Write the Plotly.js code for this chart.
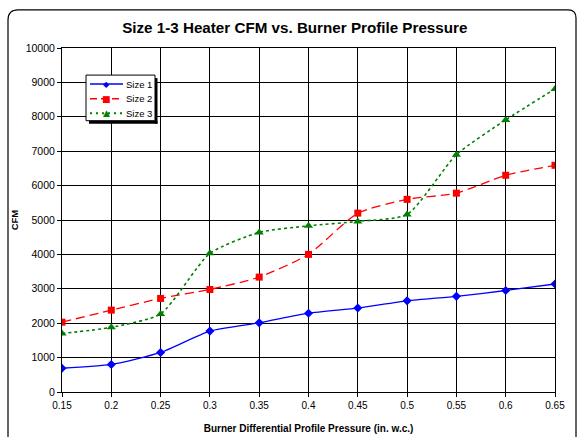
<!DOCTYPE html>
<html>
<head>
<meta charset="utf-8">
<script src="https://cdn.plot.ly/plotly-3.0.1.min.js"></script>
<style>html,body{margin:0;padding:0;background:#fff;}#chart{width:578px;height:437px;}</style>
</head>
<body>
<div id="chart"></div>
<script>
const pressure = [0.15, 0.2, 0.25, 0.3, 0.35, 0.4, 0.45, 0.5, 0.55, 0.6, 0.65];
const size1 = [690, 800, 1150, 1770, 2010, 2290, 2440, 2650, 2780, 2950, 3140];
const size2 = [2030, 2380, 2720, 2980, 3340, 4000, 5200, 5600, 5780, 6300, 6590];
const size3 = [1700, 1880, 2270, 4030, 4640, 4830, 4960, 5160, 6900, 7910, 8810];
const seriesNames = ['Size 1', 'Size 2', 'Size 3'];
const yTicks = [0,1000,2000,3000,4000,5000,6000,7000,8000,9000,10000];
const xTicks = [0.15,0.2,0.25,0.3,0.35,0.4,0.45,0.5,0.55,0.6,0.65];

const font = 'Arial, "Liberation Sans", sans-serif';
const colors = ['#0000FF', '#FF0000', '#008000'];
const dashes = ['solid', '9px,5px', 'dot'];
const widths = [1.3, 1.3, 1.6];
const symbols = ['diamond', 'square', 'triangle-up'];
const glyphs = ['\u25C6', '\u25A0', '\u25B2'];
const sizes = [7, 7, 8];
const data = [size1, size2, size3];

const traces = data.map((ys, i) => ({
  x: pressure, y: ys, name: seriesNames[i], mode: 'lines+markers', showlegend: false,
  line: {color: colors[i], width: widths[i], dash: dashes[i], shape: 'spline', smoothing: 0.6},
  marker: {symbol: symbols[i], size: sizes[i], color: colors[i]}
}));

// pixel -> paper helpers (plot area 62..555 x 48..391)
const PX = x => (x - 62) / 493;
const PY = y => (391 - y) / 343;

const shapes = [
  {type: 'path', xref: 'paper', yref: 'paper',
   path: 'M ' + PX(8) + ' ' + PY(460) +
         ' L ' + PX(8) + ' ' + PY(20) +
         ' Q ' + PX(8) + ' ' + PY(10) + ' ' + PX(18) + ' ' + PY(10) +
         ' L ' + PX(568) + ' ' + PY(10) +
         ' Q ' + PX(576) + ' ' + PY(10) + ' ' + PX(576) + ' ' + PY(18) +
         ' L ' + PX(576) + ' ' + PY(460),
   line: {color: '#000', width: 1.2}},
  // legend box
  {type: 'rect', xref: 'paper', yref: 'paper', x0: PX(86), x1: PX(155), y0: PY(120.5), y1: PY(75),
   fillcolor: '#fff', line: {color: '#000', width: 1}, layer: 'above'},
  // legend shadow (right and bottom strips)
  {type: 'rect', xref: 'paper', yref: 'paper', x0: PX(155), x1: PX(157.5), y0: PY(123.5), y1: PY(78),
   fillcolor: '#000', line: {width: 0}, layer: 'above'},
  {type: 'rect', xref: 'paper', yref: 'paper', x0: PX(89), x1: PX(157.5), y0: PY(123.5), y1: PY(120.5),
   fillcolor: '#000', line: {width: 0}, layer: 'above'}
];
const annotations = [];
const rowY = [84, 98.5, 113];
seriesNames.forEach((nm, i) => {
  shapes.push({type: 'line', xref: 'paper', yref: 'paper', x0: PX(90), x1: PX(123), y0: PY(rowY[i]), y1: PY(rowY[i]),
    line: {color: colors[i], width: i === 2 ? 2 : 1.5, dash: i === 1 ? '7px,4px' : (i === 2 ? '2px,4px' : 'solid')}, layer: 'above'});
  annotations.push({xref: 'paper', yref: 'paper', x: PX(106.5), y: PY(rowY[i]), text: glyphs[i], showarrow: false,
    xanchor: 'center', yanchor: 'middle', font: {family: 'DejaVu Sans', size: i === 0 ? 8 : 9, color: colors[i]}});
  annotations.push({xref: 'paper', yref: 'paper', x: PX(123.5), y: PY(rowY[i]), text: nm, showarrow: false,
    xanchor: 'left', yanchor: 'middle', font: {family: font, size: 9.5, color: '#000'}});
});

const layout = {
  width: 578, height: 437,
  margin: {l: 62, r: 23, t: 48, b: 45},
  paper_bgcolor: '#fff', plot_bgcolor: '#fff',
  font: {family: font, size: 10, color: '#000'},
  title: {text: '<b>Size 1-3 Heater CFM vs. Burner Profile Pressure</b>', font: {family: font, size: 15.2, color: '#000'}, x: 0.51, xanchor: 'center', y: 0.936, yanchor: 'middle'},
  xaxis: {
    range: [0.15, 0.65], tickvals: xTicks, ticktext: xTicks.map(String),
    showgrid: true, gridcolor: '#000', gridwidth: 1,
    showline: true, linecolor: '#000', linewidth: 1, mirror: true,
    ticks: 'outside', ticklen: 4, tickcolor: '#000', zeroline: false,
    tickfont: {size: 10, family: font},
    title: {text: '<b>Burner Differential Profile Pressure (in. w.c.)</b>', font: {size: 10, family: font}, standoff: 14}
  },
  yaxis: {
    range: [0, 10000], tickvals: yTicks, ticktext: yTicks.map(String),
    showgrid: true, gridcolor: '#000', gridwidth: 1,
    showline: true, linecolor: '#000', linewidth: 1, mirror: true,
    ticks: 'outside', ticklen: 4, tickcolor: '#000', zeroline: false,
    tickfont: {size: 10.5, family: font},
    title: {text: '<b>CFM</b>', font: {size: 9.5, family: font}, standoff: 5}
  },
  showlegend: false,
  shapes: shapes,
  annotations: annotations
};

Plotly.newPlot('chart', traces, layout, {displayModeBar: false, staticPlot: true});
</script>
</body>
</html>
